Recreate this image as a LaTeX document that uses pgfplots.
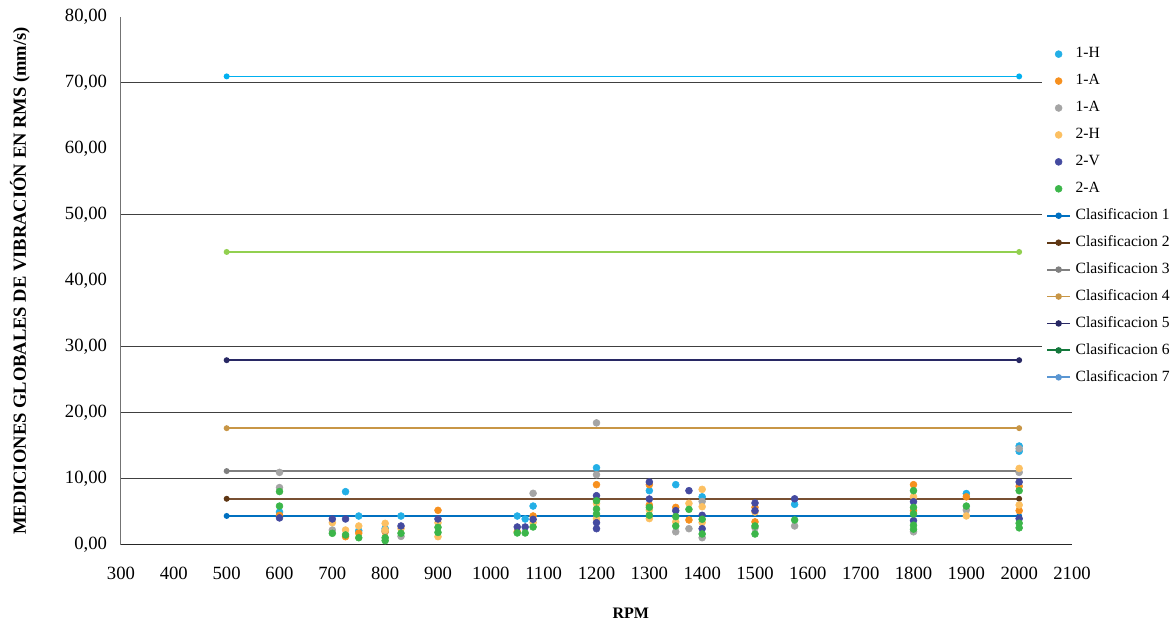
\documentclass[border=0pt]{standalone}
\usepackage{pgfplots}
\pgfplotsset{compat=1.18}
\usepackage{fontspec}
\setmainfont{Liberation Serif}
\definecolor{cH1}{RGB}{35,175,230}
\definecolor{cA1}{RGB}{247,144,30}
\definecolor{cG1}{RGB}{165,165,165}
\definecolor{cH2}{RGB}{252,192,98}
\definecolor{cV2}{RGB}{68,74,160}
\definecolor{cA2}{RGB}{60,182,74}
\definecolor{l1}{RGB}{0,112,192}
\definecolor{l2}{RGB}{120,80,50}
\definecolor{l2leg}{RGB}{95,55,20}
\definecolor{l3}{RGB}{128,128,128}
\definecolor{l4}{RGB}{200,150,70}
\definecolor{l5}{RGB}{40,40,100}
\definecolor{l6}{RGB}{146,208,80}
\definecolor{l6leg}{RGB}{20,120,60}
\definecolor{l7}{RGB}{0,176,240}
\definecolor{l7leg}{RGB}{90,150,210}
\definecolor{gridc}{RGB}{64,64,64}
\begin{document}
\begin{tikzpicture}
\useasboundingbox (-90.75pt,-58.5pt) rectangle (788.25pt,408.75pt);
\begin{axis}[
  at={(0pt,0pt)}, anchor=south west,
  scale only axis, width=713.25pt, height=396pt,
  xmin=300, xmax=2100, ymin=0, ymax=80,
  xtick={300,400,...,2100}, ytick={0,10,...,80},
  extra y ticks={10,20,30,50,70}, extra y tick labels={},
  extra y tick style={grid=major, major grid style={gridc, line width=0.75pt}},
  major tick length=0pt,
  axis lines*=left,
  x axis line style={black!85, line width=0.75pt},
  y axis line style={black!55, line width=0.75pt},
  /pgf/number format/assume math mode=true,
  xticklabel style={font=\fontsize{14}{16}\selectfont, yshift=-13pt, /pgf/number format/1000 sep={}},
  yticklabel style={font=\fontsize{14}{16}\selectfont, xshift=-7pt, /pgf/number format/.cd, fixed, fixed zerofill, precision=2, use comma},
  xlabel={RPM},
  xlabel style={font=\bfseries\fontsize{12}{14}\selectfont, at={(axis description cs:0.536,-0.1288)}, anchor=center},
  ylabel={MEDICIONES GLOBALES DE VIBRACIÓN EN RMS (mm/s)},
  ylabel style={font=\bfseries\fontsize{13.9}{16}\selectfont, at={(axis description cs:-0.1062,0.5)}, anchor=center},
  legend style={at={(axis description cs:0.9685,0.951)}, anchor=north west, draw=none, fill=white,
    font=\fontsize{11.7}{13}\selectfont, row sep=7.7pt,
    nodes={inner ysep=1pt, inner xsep=3.5pt, text height=8pt, text depth=2.5pt}},
  legend cell align=left,
  clip=false,
]
% classification lines
\addplot[l1, line width=1.2pt, mark=*, mark size=1.6pt, forget plot] coordinates {(500,4.4) (2000,4.4)};
\addplot[l2, line width=1.2pt, mark=*, mark size=1.6pt, mark options={fill=l2leg, draw=l2leg}, forget plot] coordinates {(500,7.0) (2000,7.0)};
\addplot[l3, line width=1.2pt, mark=*, mark size=1.6pt, forget plot] coordinates {(500,11.2) (2000,11.2)};
\addplot[l4, line width=1.2pt, mark=*, mark size=1.6pt, forget plot] coordinates {(500,17.7) (2000,17.7)};
\addplot[l5, line width=1.2pt, mark=*, mark size=1.6pt, forget plot] coordinates {(500,28.0) (2000,28.0)};
\addplot[l6, line width=1.2pt, mark=*, mark size=1.6pt, forget plot] coordinates {(500,44.4) (2000,44.4)};
\addplot[l7, line width=1.2pt, mark=*, mark size=1.6pt, forget plot] coordinates {(500,71.0) (2000,71.0)};
% measurements
\addplot[only marks, mark=*, mark size=2.6pt, cH1, mark options={fill=cH1, draw=cH1}] table {
600 5.0
725 8.08
750 4.39
750 2.17
800 2.5
830 4.39
1050 4.39
1065 3.94
1080 5.9
1200 11.7
1300 8.23
1350 9.14
1400 7.3
1575 6.16
1900 7.8
2000 15.0
2000 14.2
};
\addplot[only marks, mark=*, mark size=2.6pt, cA1, mark options={fill=cA1, draw=cA1}] table {
600 4.5
725 1.26
750 1.8
800 2.0
900 5.25
1050 2.0
1080 4.4
1200 9.14
1300 9.14
1300 6.06
1350 5.7
1375 3.79
1500 5.7
1500 3.5
1800 9.14
1800 5.2
1900 7.3
2000 8.9
2000 5.2
};
\addplot[only marks, mark=*, mark size=2.6pt, cG1, mark options={fill=cG1, draw=cG1}] table {
600 11.0
600 8.7
700 2.27
800 2.2
830 1.3
1080 7.83
1200 18.5
1200 10.65
1350 2.0
1375 2.47
1400 6.6
1400 1.1
1500 2.6
1575 2.88
1800 2.0
1900 5.3
2000 14.6
2000 11.0
};
\addplot[only marks, mark=*, mark size=2.6pt, cH2, mark options={fill=cH2, draw=cH2}] table {
700 3.38
725 2.27
750 2.88
800 3.28
800 2.27
830 2.5
900 3.38
900 1.26
1080 3.4
1200 6.3
1200 4.0
1300 5.3
1300 4.0
1350 3.5
1375 6.3
1400 8.43
1400 5.8
1400 3.4
1500 5.0
1800 7.3
1900 4.4
2000 11.6
2000 6.06
};
\addplot[only marks, mark=*, mark size=2.6pt, cV2, mark options={fill=cV2, draw=cV2}] table {
600 4.1
700 3.94
725 3.94
830 2.88
900 3.94
1050 2.73
1065 2.73
1080 3.89
1200 7.47
1200 3.38
1200 2.47
1300 9.55
1300 6.97
1350 5.2
1375 8.23
1400 4.5
1400 2.47
1500 6.36
1500 5.2
1575 7.0
1800 6.56
1800 3.7
2000 9.55
2000 3.99
};
\addplot[only marks, mark=*, mark size=2.6pt, cA2, mark options={fill=cA2, draw=cA2}] table {
600 8.1
600 5.9
700 1.77
725 1.52
750 1.1
800 1.1
800 0.66
830 1.77
900 2.68
900 1.9
1050 1.82
1065 1.82
1080 2.73
1200 6.7
1200 5.45
1200 4.7
1300 5.71
1300 4.5
1350 4.3
1350 2.88
1375 5.4
1400 3.9
1400 1.67
1500 2.88
1500 1.67
1575 3.79
1800 8.23
1800 5.7
1800 4.7
1800 3.0
1800 2.4
1900 5.9
2000 8.23
2000 3.3
2000 2.6
};
\legend{1-H,1-A,1-A,2-H,2-V,2-A}
\addlegendimage{l1, line width=1.4pt, mark=*, mark size=1.7pt}
\addlegendentry{Clasificacion 1}
\addlegendimage{l2leg, line width=1.4pt, mark=*, mark size=1.7pt}
\addlegendentry{Clasificacion 2}
\addlegendimage{l3, line width=1.4pt, mark=*, mark size=1.7pt}
\addlegendentry{Clasificacion 3}
\addlegendimage{l4, line width=1.4pt, mark=*, mark size=1.7pt}
\addlegendentry{Clasificacion 4}
\addlegendimage{l5, line width=1.4pt, mark=*, mark size=1.7pt}
\addlegendentry{Clasificacion 5}
\addlegendimage{l6leg, line width=1.4pt, mark=*, mark size=1.7pt}
\addlegendentry{Clasificacion 6}
\addlegendimage{l7leg, line width=1.4pt, mark=*, mark size=1.7pt}
\addlegendentry{Clasificacion 7}
\end{axis}
\end{tikzpicture}
\end{document}
